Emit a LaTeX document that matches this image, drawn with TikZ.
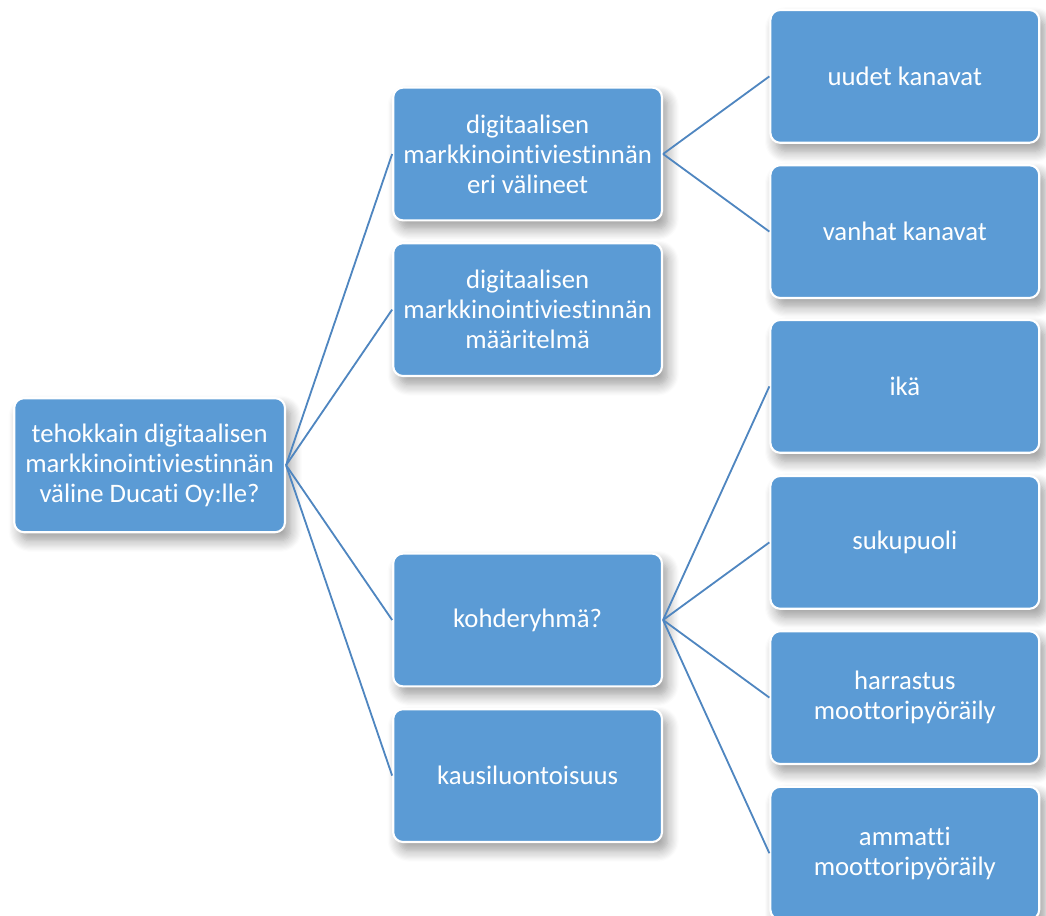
\documentclass[tikz,border=0pt]{standalone}
\usepackage{fontspec}
\setmainfont[Ligatures=NoCommon]{Carlito}
\usetikzlibrary{shadows.blur}
\definecolor{boxblue}{HTML}{5B9BD5}
\definecolor{lineblue}{HTML}{4F86C0}
\tikzset{
  box/.style={draw=white, line width=1.5pt, fill=boxblue, rounded corners=7pt,
    minimum width=6.72cm, minimum height=3.32cm, text=white, align=center,
    font=\fontsize{19}{21.4}\selectfont,
    blur shadow={shadow xshift=4pt, shadow yshift=-6pt, shadow blur radius=8pt, shadow blur steps=10, shadow opacity=40}},
  link/.style={draw=lineblue, line width=1.3pt}
}
\begin{document}
\begin{tikzpicture}
            \useasboundingbox (0, 0) rectangle (26.15, -22.9);
            \node[box, minimum width=6.77cm, minimum height=3.35cm](1) at (3.74, -11.63) {tehokkain digitaalisen\\markkinointiviestinnän\\väline Ducati Oy:lle?};
            \node[box](2) at (13.19, -3.85) {digitaalisen\\markkinointiviestinnän\\eri välineet};
            \node[box](3) at (13.19, -7.74) {digitaalisen\\markkinointiviestinnän\\määritelmä};
            \node[box](4) at (13.19, -15.5) {kohderyhmä?};
            \node[box](5) at (13.19, -19.39) {kausiluontoisuus};
            \path[link] (1.east) edge (2.west) (1.east) edge (3.west) (1.east) edge (4.west) (1.east) edge (5.west);
            \node[box](6) at (22.62, -1.91) {uudet kanavat};
            \node[box](7) at (22.62, -5.79) {vanhat kanavat};
            \path[link] (2.east) edge (6.west) (2.east) edge (7.west);
            \node[box](8) at (22.62, -9.66) {ikä};
            \node[box](9) at (22.62, -13.56) {sukupuoli};
            \node[box](10) at (22.62, -17.44) {harrastus\\moottoripyöräily};
            \node[box](11) at (22.62, -21.33) {ammatti\\moottoripyöräily};
            \path[link] (4.east) edge (8.west) (4.east) edge (9.west) (4.east) edge (10.west) (4.east) edge (11.west);
        \end{tikzpicture}
\end{document}
